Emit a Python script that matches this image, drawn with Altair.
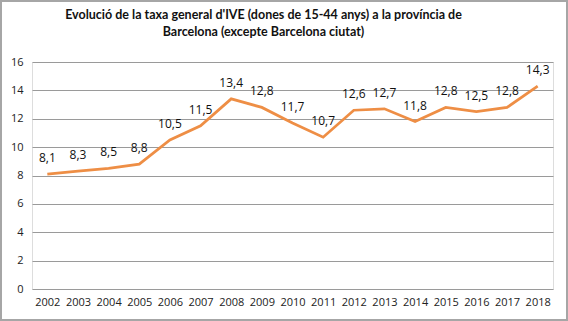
import altair as alt
import pandas as pd

years = ["2002", "2003", "2004", "2005", "2006", "2007", "2008", "2009", "2010",
         "2011", "2012", "2013", "2014", "2015", "2016", "2017", "2018"]
rates = [8.1, 8.3, 8.5, 8.8, 10.5, 11.5, 13.4, 12.8, 11.7,
         10.7, 12.6, 12.7, 11.8, 12.8, 12.5, 12.8, 14.3]
y_ticks = [0, 2, 4, 6, 8, 10, 12, 14, 16]

df = pd.DataFrame({"year": years, "rate": rates})

W, H = 521, 227
PAD = {"left": 32, "top": 62, "right": 15, "bottom": 32}

x = alt.X("year:N", title=None, sort=years,
          scale=alt.Scale(paddingInner=0, paddingOuter=0),
          axis=alt.Axis(labelAngle=0, ticks=False, domain=False, grid=False,
                        labelPadding=7, labelFont="Open Sans", labelFontSize=11,
                        labelColor="#222222"))
y = alt.Y("rate:Q", title=None,
          scale=alt.Scale(domain=[0, 16], nice=False),
          axis=alt.Axis(values=y_ticks, ticks=False, domain=False, grid=True,
                        gridColor="#9a9a9a", gridWidth=1, labelPadding=9,
                        labelFont="Open Sans", labelFontSize=11, labelColor="#222222"))

base = alt.Chart(df)

line = base.mark_line(color="#EE8E45", strokeWidth=2.75).encode(x=x, y=y)

labels = base.transform_calculate(
    lab="replace(format(datum.rate, '.1f'), '.', ',')"
).mark_text(font="Open Sans", fontSize=12, color="#111111", dy=-16,
            baseline="middle").encode(x=x, y=y, text="lab:N")

frame = alt.Chart(pd.DataFrame({"a": [0]})).mark_rect(
    fill=None, stroke="#a6a6a6", strokeWidth=2
).encode(
    x=alt.value(-PAD["left"] + 1), x2=alt.value(W + PAD["right"] - 1),
    y=alt.value(-PAD["top"] + 1), y2=alt.value(H + PAD["bottom"] - 1)
)

chart = alt.layer(line, labels, frame).properties(
    width=W, height=H,
    autosize=alt.AutoSizeParams(type="none"),
    padding=PAD,
    title=alt.TitleParams(
        ["Evolució de la taxa general d'IVE (dones de 15-44 anys) a la província de",
         "Barcelona (excepte Barcelona ciutat)"],
        font="Lato", fontSize=12.5, fontWeight="bold", color="#111111",
        anchor="middle", dx=-29, offset=-38, lineHeight=17
    )
).configure_view(stroke=None).configure(background="white")

chart.save("out.html", embed_options={"renderer": "svg", "actions": False})
